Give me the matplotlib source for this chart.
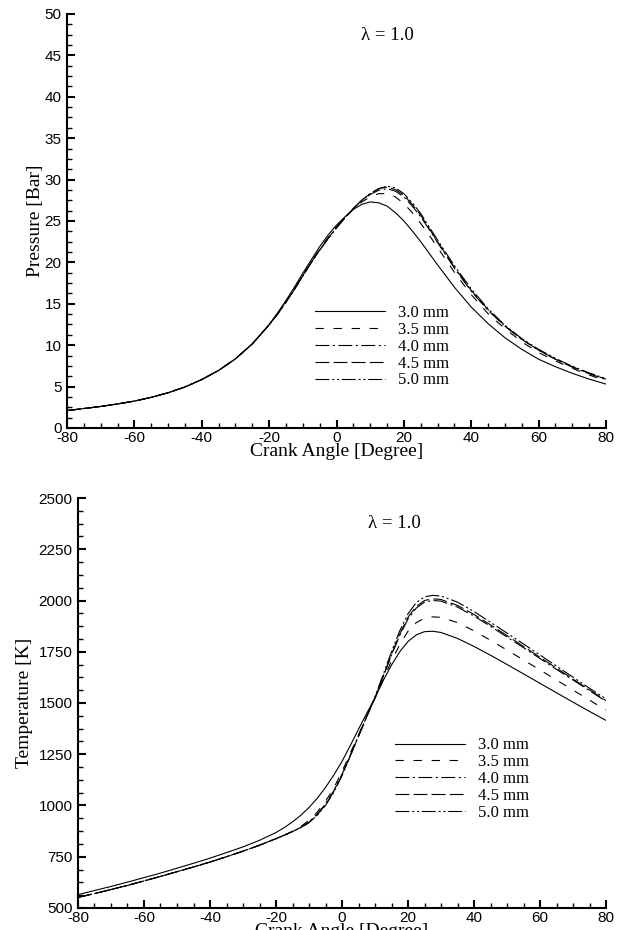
"""Pressure and temperature vs crank angle, lambda = 1.0"""

import matplotlib
matplotlib.use('Agg')
import matplotlib.pyplot as plt
from matplotlib.ticker import MultipleLocator

plt.rcParams['font.family'] = ['Liberation Sans', 'DejaVu Sans']
plt.rcParams['lines.scale_dashes'] = False
plt.rcParams['axes.unicode_minus'] = False

SERIF = ['Liberation Serif', 'DejaVu Serif']

crank = [-80, -75, -70, -65, -60, -55, -50, -45, -40, -35, -30, -25, -20,
         -17.5, -15, -12.5, -10, -7.5, -5, -2.5, 0, 2.5, 5, 7.5, 10, 12.5,
         15, 17.5, 20, 22.5, 25, 27.5, 30, 35, 40, 45, 50, 55, 60, 65, 70,
         75, 80]

labels = ['3.0 mm', '3.5 mm', '4.0 mm', '4.5 mm', '5.0 mm']

# pressure [bar]
p_30 = [2.1, 2.35, 2.6, 2.9, 3.25, 3.7, 4.25, 4.95, 5.85, 6.95, 8.35, 10.15,
        12.5, 13.9, 15.4, 17.0, 18.7, 20.3, 21.9, 23.3, 24.5, 25.5, 26.4,
        27.0, 27.3, 27.2, 26.8, 26.0, 25.0, 23.8, 22.5, 21.1, 19.7, 17.0,
        14.6, 12.6, 10.9, 9.5, 8.3, 7.4, 6.6, 5.9, 5.3]
p_35 = [2.1, 2.35, 2.6, 2.9, 3.25, 3.7, 4.25, 4.95, 5.85, 6.95, 8.35, 10.15,
        12.45, 13.8, 15.25, 16.8, 18.45, 20.05, 21.6, 23.0, 24.3, 25.4, 26.4,
        27.3, 27.9, 28.3, 28.3, 27.9, 27.1, 26.0, 24.7, 23.3, 21.8, 18.8,
        16.1, 13.8, 12.0, 10.4, 9.1, 8.1, 7.2, 6.4, 5.7]
p_40 = [2.1, 2.35, 2.6, 2.9, 3.25, 3.7, 4.25, 4.95, 5.85, 6.95, 8.35, 10.15,
        12.45, 13.75, 15.2, 16.75, 18.4, 20.0, 21.5, 22.9, 24.2, 25.4, 26.5,
        27.5, 28.2, 28.7, 28.9, 28.6, 27.9, 26.8, 25.5, 24.0, 22.4, 19.3,
        16.5, 14.2, 12.3, 10.7, 9.4, 8.3, 7.35, 6.55, 5.85]
p_45 = [2.1, 2.35, 2.6, 2.9, 3.25, 3.7, 4.25, 4.95, 5.85, 6.95, 8.35, 10.15,
        12.45, 13.75, 15.2, 16.75, 18.4, 20.0, 21.5, 22.9, 24.2, 25.4, 26.5,
        27.5, 28.3, 28.9, 29.1, 28.8, 28.1, 27.0, 25.7, 24.1, 22.5, 19.4,
        16.6, 14.3, 12.3, 10.7, 9.4, 8.3, 7.4, 6.6, 5.9]
p_50 = [2.1, 2.35, 2.6, 2.9, 3.25, 3.7, 4.25, 4.95, 5.85, 6.95, 8.35, 10.15,
        12.45, 13.75, 15.2, 16.7, 18.35, 19.95, 21.45, 22.85, 24.15, 25.35,
        26.5, 27.5, 28.3, 28.9, 29.2, 29.0, 28.3, 27.2, 25.9, 24.3, 22.7,
        19.6, 16.8, 14.4, 12.4, 10.8, 9.5, 8.4, 7.45, 6.65, 5.95]

# temperature [K]
t_30 = [565, 585, 605, 626, 648, 670, 694, 718, 743, 770, 798, 830, 868, 892,
        920, 952, 990, 1035, 1088, 1148, 1215, 1292, 1372, 1450, 1525, 1610,
        1685, 1750, 1800, 1832, 1848, 1850, 1844, 1815, 1776, 1733, 1688,
        1642, 1596, 1550, 1504, 1459, 1415]
t_35 = [552, 570, 590, 610, 632, 654, 677, 700, 724, 750, 777, 806, 838, 855,
        874, 897, 928, 968, 1020, 1085, 1165, 1255, 1345, 1435, 1522, 1615,
        1705, 1785, 1850, 1892, 1914, 1920, 1918, 1892, 1852, 1806, 1758,
        1710, 1661, 1612, 1563, 1514, 1465]
t_40 = [552, 570, 590, 610, 632, 654, 677, 700, 724, 750, 777, 806, 838, 855,
        873, 893, 920, 958, 1008, 1072, 1152, 1245, 1340, 1434, 1525, 1628,
        1733, 1830, 1910, 1963, 1992, 2000, 1997, 1968, 1924, 1874, 1822,
        1770, 1717, 1664, 1612, 1560, 1508]
t_45 = [552, 570, 590, 610, 632, 654, 677, 700, 724, 750, 777, 806, 838, 855,
        873, 892, 918, 955, 1004, 1068, 1148, 1242, 1338, 1434, 1527, 1632,
        1738, 1837, 1918, 1971, 2000, 2008, 2005, 1976, 1932, 1881, 1829,
        1776, 1723, 1670, 1617, 1564, 1512]
t_50 = [552, 570, 590, 610, 632, 654, 677, 700, 724, 750, 777, 806, 838, 855,
        873, 891, 916, 952, 1000, 1064, 1145, 1240, 1337, 1435, 1530, 1640,
        1750, 1852, 1935, 1990, 2018, 2025, 2022, 1992, 1946, 1894, 1841,
        1788, 1734, 1680, 1626, 1572, 1520]

styles = ['-', (0, (6, 7)), (0, (10, 2.5, 1.5, 2.5)), (0, (10, 3)),
          (0, (10, 2, 1.5, 2, 1.5, 2))]


def style_axes(ax, y_major, y_minor):
    """Tecplot-like axes: left and bottom only, ticks inward."""
    for side in ('top', 'right'):
        ax.spines[side].set_visible(False)
    for side in ('left', 'bottom'):
        ax.spines[side].set_linewidth(1.5)
    ax.set_xlim(-80, 80)
    ax.xaxis.set_major_locator(MultipleLocator(20))
    ax.xaxis.set_minor_locator(MultipleLocator(5))
    ax.yaxis.set_major_locator(MultipleLocator(y_major))
    ax.yaxis.set_minor_locator(MultipleLocator(y_minor))
    ax.tick_params(which='major', direction='in', length=6, width=1.5,
                   labelsize=11, top=False, right=False)
    ax.tick_params(which='minor', direction='in', length=3.5, width=1.0,
                   top=False, right=False)
    ax.tick_params(axis='x', pad=2)
    ax.tick_params(axis='y', pad=4)
    ax.set_xlabel('Crank Angle [Degree]', family=SERIF, fontsize=14,
                  labelpad=-1)


def add_legend(ax, x, y):
    ax.legend(loc='upper left', bbox_to_anchor=(x, y), frameon=False,
              prop={'family': SERIF, 'size': 12}, handlelength=4.2,
              handletextpad=0.8, labelspacing=0.05, borderpad=0,
              borderaxespad=0)


fig = plt.figure(figsize=(6.25, 9.3), dpi=100)
ax1 = fig.add_axes([0.1072, 0.5398, 0.8624, 0.4452])
ax2 = fig.add_axes([0.1248, 0.0237, 0.8448, 0.4408])

for y, lab, ls in zip([p_30, p_35, p_40, p_45, p_50], labels, styles):
    ax1.plot(crank, y, color='black', linewidth=0.8, linestyle=ls, label=lab)
ax1.set_ylim(0, 50)
style_axes(ax1, 5, 1.25)
ax1.set_ylabel('Pressure [Bar]', family=SERIF, fontsize=14, labelpad=0)
ax1.text(0.595, 0.949, 'λ = 1.0', transform=ax1.transAxes, family=SERIF,
         fontsize=13.5, ha='center', va='center')
add_legend(ax1, 0.46, 0.297)

for y, lab, ls in zip([t_30, t_35, t_40, t_45, t_50], labels, styles):
    ax2.plot(crank, y, color='black', linewidth=0.8, linestyle=ls, label=lab)
ax2.set_ylim(500, 2500)
style_axes(ax2, 250, 62.5)
ax2.set_ylabel('Temperature [K]', family=SERIF, fontsize=14, labelpad=4)
ax2.text(0.60, 0.937, 'λ = 1.0', transform=ax2.transAxes, family=SERIF,
         fontsize=13.5, ha='center', va='center')
add_legend(ax2, 0.60, 0.416)

plt.savefig('out.png', dpi=100)
